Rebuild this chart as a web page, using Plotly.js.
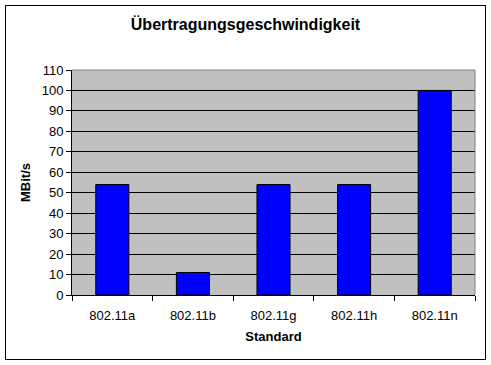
<!DOCTYPE html>
<html>
<head>
<meta charset="utf-8">
<script src="https://cdn.plot.ly/plotly-3.0.1.min.js"></script>
<style>
html,body{margin:0;padding:0;background:#fff;}
#wrap{position:relative;width:491px;height:365px;}
#chart{width:491px;height:365px;}
#frame{position:absolute;left:5px;top:5px;width:479px;height:353px;border:1px solid #000;pointer-events:none;}
</style>
</head>
<body>
<div id="wrap"><div id="chart"></div><div id="frame"></div></div>
<script>
const categories = ["802.11a", "802.11b", "802.11g", "802.11h", "802.11n"];
const speeds = [54, 11, 54, 54, 100];
const yTicks = [0, 10, 20, 30, 40, 50, 60, 70, 80, 90, 100, 110];

const fam = "Liberation Sans, Arial, sans-serif";
const font = {family: fam, color: "#000", size: 13};

Plotly.newPlot("chart", [{
  type: "bar",
  x: categories,
  y: speeds,
  marker: {color: "#0000FF", line: {color: "#000", width: 1}},
  hoverinfo: "skip"
}], {
  width: 491, height: 365,
  margin: {l: 72, r: 16, t: 70, b: 70},
  paper_bgcolor: "#fff",
  plot_bgcolor: "#C0C0C0",
  font: font,
  bargap: 0.59,
  showlegend: false,
  title: {text: "<b>Übertragungsgeschwindigkeit</b>", font: {family: fam, size: 16, color: "#000"},
          x: 0.5, xref: "container", y: 0.932, yref: "container", yanchor: "middle"},
  xaxis: {
    type: "category",
    showgrid: false, zeroline: false,
    showline: true, linecolor: "#000", linewidth: 1,
    ticks: "outside", tickson: "boundaries", ticklen: 5, tickcolor: "#000",
    tickfont: font, ticklabelstandoff: 8,
    title: {text: "<b>Standard</b>", font: font, standoff: 10},
    automargin: false
  },
  yaxis: {
    range: [0, 110], tickvals: yTicks,
    showgrid: true, gridcolor: "#000", gridwidth: 1,
    zeroline: false,
    showline: true, linecolor: "#000", linewidth: 1,
    ticks: "outside", ticklen: 5, tickcolor: "#000",
    tickfont: font,
    title: {text: "<b>MBit/s</b>", font: font, standoff: 8},
    automargin: false
  },
  shapes: [
    {type: "line", xref: "paper", yref: "paper", x0: 0, x1: 1, y0: 1, y1: 1, line: {color: "#808080", width: 1}, layer: "above"},
    {type: "line", xref: "paper", yref: "paper", x0: 1, x1: 1, y0: 0, y1: 1, line: {color: "#808080", width: 1}, layer: "above"}
  ]
}, {displayModeBar: false, staticPlot: true});
</script>
</body>
</html>
